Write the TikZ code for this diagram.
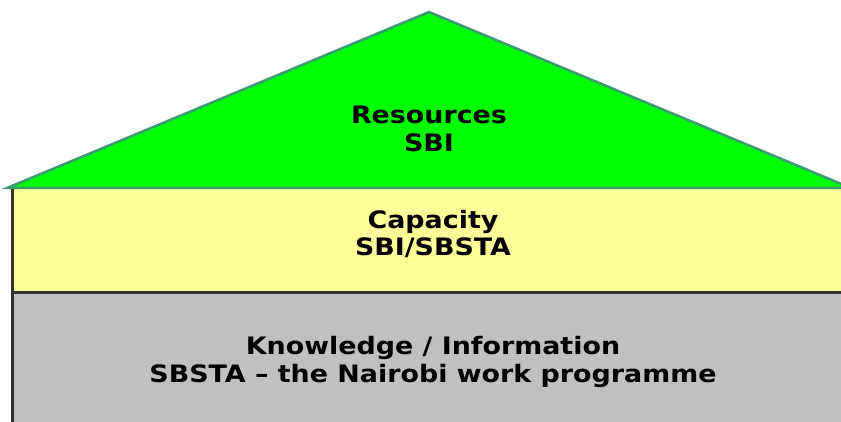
\documentclass[tikz,border=0pt]{standalone}
\usepackage{fontspec}
\setmainfont{DejaVu Sans}
\newfontfamily\widebold[FakeStretch=1.12]{DejaVu Sans Bold}
\begin{document}
\begin{tikzpicture}[x=1pt,y=-1pt,
  layer/.style={draw=black!80,line width=3pt},
  roof/.style={fill=green,draw=roofline,line width=2.5pt,line join=miter},
  lbl/.style={font=\fontsize{24}{27.5}\selectfont\widebold,align=center,text=black,inner sep=0pt}]
\definecolor{roofline}{HTML}{3A9A70}
\definecolor{capyellow}{HTML}{FFFF99}
\definecolor{knowgray}{HTML}{C0C0C0}
\useasboundingbox (0,0) rectangle (841,422);
\draw[layer,fill=knowgray] (12.5,292) rectangle (860,440);
\draw[layer,fill=capyellow] (12.5,188) rectangle (860,292);
\draw[roof] (7,188) -- (429,12) -- (851,188) -- cycle;
\node[lbl] (res) at (429,129) {Resources\\SBI};
\node[lbl] (cap) at (433,234) {Capacity\\SBI/SBSTA};
\node[lbl] (know) at (433,362) {Knowledge / Information\\SBSTA – the Nairobi work programme};
\end{tikzpicture}
\end{document}
